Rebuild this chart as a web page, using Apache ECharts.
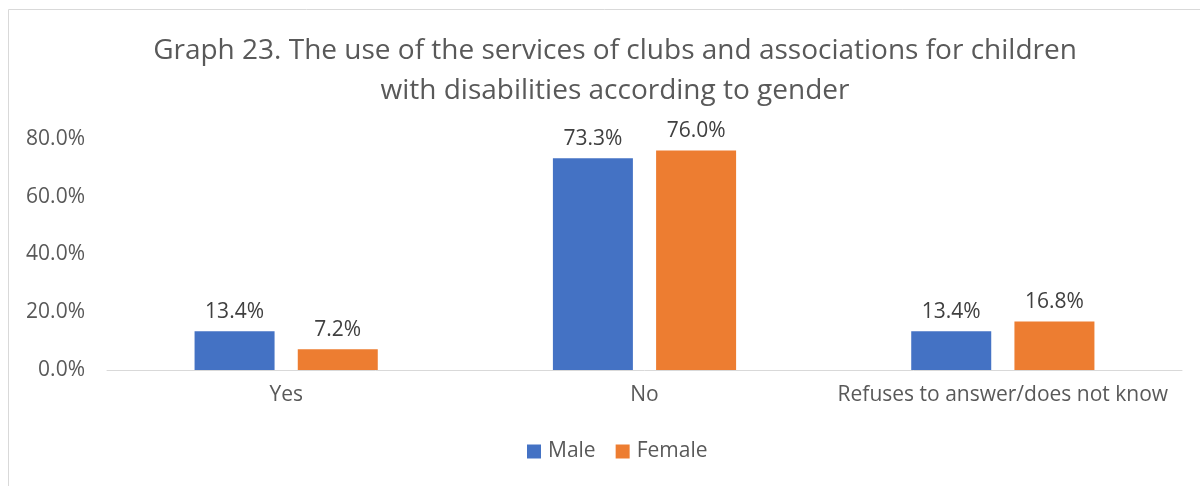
<!DOCTYPE html>
<html>
<head>
<meta charset="utf-8">
<script src="https://cdn.jsdelivr.net/npm/echarts@6/dist/echarts.min.js"></script>
<style>
html,body{margin:0;padding:0;background:#fff;}
#c{width:1200px;height:486px;}
</style>
</head>
<body>
<div id="c"></div>
<script>
const categories = ["Yes", "No", "Refuses to answer/does not know"];
const male = [13.4, 73.3, 13.4];
const female = [7.2, 76.0, 16.8];
const yTicks = [0, 20, 40, 60, 80];

const chart = echarts.init(document.getElementById('c'));
const font = '"Open Sans", "Noto Sans", sans-serif';
chart.setOption({
  animation: false,
  textStyle: { fontFamily: font },
  title: {
    text: "Graph 23. The use of the services of clubs and associations for children\nwith disabilities according to gender",
    left: 610, top: 26, textAlign: 'center',
    textStyle: { fontFamily: font, fontSize: 28, fontWeight: 'normal', color: '#595959', lineHeight: 40 }
  },
  graphic: [{
    type: 'rect', shape: { x: 8.5, y: 9.5, width: 1400, height: 600 },
    style: { fill: 'none', stroke: '#d9d9d9', lineWidth: 1 }, silent: true
  }],
  legend: {
    bottom: 19, left: 522, itemWidth: 14, itemHeight: 14, itemGap: 20,
    icon: 'rect',
    textStyle: { fontFamily: font, fontSize: 21, color: '#595959', padding: [0, 0, 0, 2] },
    data: ['Male', 'Female']
  },
  grid: { left: 107, right: 18, top: 139, bottom: 116, containLabel: false },
  xAxis: {
    type: 'category', data: categories,
    axisLine: { lineStyle: { color: '#d9d9d9', width: 1 } },
    axisTick: { show: false },
    axisLabel: { interval: 0, fontFamily: font, fontSize: 21, color: '#595959', margin: 15 }
  },
  yAxis: {
    type: 'value', min: yTicks[0], max: yTicks[yTicks.length - 1], interval: 20,
    splitLine: { show: false },
    axisLine: { show: false }, axisTick: { show: false },
    axisLabel: { fontFamily: font, fontSize: 21, color: '#595959', margin: 22,
      formatter: v => v.toFixed(1) + '%' }
  },
  series: [
    { name: 'Male', type: 'bar', data: male, barWidth: 80, barGap: '29%',
      itemStyle: { color: '#4472c4' },
      label: { show: true, position: 'top', distance: 9, fontFamily: font, fontSize: 21, color: '#404040',
        formatter: p => p.value.toFixed(1) + '%' } },
    { name: 'Female', type: 'bar', data: female, barWidth: 80,
      itemStyle: { color: '#ed7d31' },
      label: { show: true, position: 'top', distance: 9, fontFamily: font, fontSize: 21, color: '#404040',
        formatter: p => p.value.toFixed(1) + '%' } }
  ]
});
</script>
</body>
</html>
